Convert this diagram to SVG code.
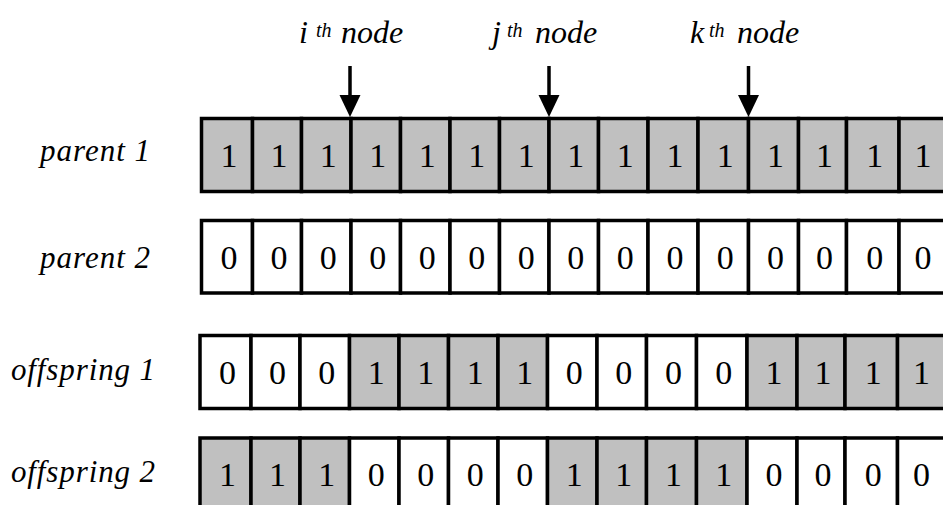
<svg xmlns="http://www.w3.org/2000/svg" width="943" height="505" viewBox="0 0 943 505">
<defs>
<style>
.cell{stroke:#000;stroke-width:3.5}
.on{fill:#c0c0c0}
.off{fill:#fff}
.d{font-family:"Liberation Serif","Times New Roman",serif;font-size:34px;fill:#000;text-anchor:middle}
.lbl{font-family:"Liberation Serif","Times New Roman",serif;font-style:italic;font-size:31px;fill:#000}
.top{font-family:"Liberation Serif","Times New Roman",serif;font-style:italic;font-size:32px;fill:#000}
.sup{font-size:20px}
.arr{stroke:#000;stroke-width:3.5;fill:none}
</style>
<marker id="ah" markerUnits="userSpaceOnUse" markerWidth="22" markerHeight="22" viewBox="0 0 22 22" refX="5" refY="11" orient="auto">
<path d="M0,0.5 L22,11 L0,21.5 z" fill="#000"/>
</marker>
</defs>
<rect width="943" height="505" fill="#fff"/>

<g id="labels">
<text class="lbl" x="40" y="161" textLength="110" lengthAdjust="spacing">parent 1</text>
<text class="lbl" x="40" y="268" textLength="110" lengthAdjust="spacing">parent 2</text>
<text class="lbl" x="11" y="380" textLength="144" lengthAdjust="spacing">offspring 1</text>
<text class="lbl" x="11" y="482" textLength="144" lengthAdjust="spacing">offspring 2</text>
</g>

<g id="node-labels">
<text class="top" y="43"><tspan x="299">i</tspan><tspan class="sup" x="316" y="36.5">th</tspan><tspan x="341" y="43">node</tspan></text>
<text class="top" y="43"><tspan x="492">j</tspan><tspan class="sup" x="507" y="36.5">th</tspan><tspan x="535" y="43">node</tspan></text>
<text class="top" y="43"><tspan x="690">k</tspan><tspan class="sup" x="709" y="36.5">th</tspan><tspan x="737" y="43">node</tspan></text>
</g>

<g id="parent1">
<rect class="cell on" x="201.5" y="118.5" width="51" height="73"/>
<rect class="cell on" x="252.5" y="118.5" width="49" height="73"/>
<rect class="cell on" x="301.5" y="118.5" width="49.5" height="73"/>
<rect class="cell on" x="351" y="118.5" width="49.5" height="73"/>
<rect class="cell on" x="400.5" y="118.5" width="49.5" height="73"/>
<rect class="cell on" x="450" y="118.5" width="49.5" height="73"/>
<rect class="cell on" x="499.5" y="118.5" width="49.5" height="73"/>
<rect class="cell on" x="549" y="118.5" width="49.5" height="73"/>
<rect class="cell on" x="598.5" y="118.5" width="49.5" height="73"/>
<rect class="cell on" x="648" y="118.5" width="50" height="73"/>
<rect class="cell on" x="698" y="118.5" width="50.5" height="73"/>
<rect class="cell on" x="748.5" y="118.5" width="50" height="73"/>
<rect class="cell on" x="798.5" y="118.5" width="48" height="73"/>
<rect class="cell on" x="846.5" y="118.5" width="52.5" height="73"/>
<rect class="cell on" x="899" y="118.5" width="70" height="73"/>
<text class="d" y="167"><tspan x="229">1</tspan><tspan x="279">1</tspan><tspan x="328.25">1</tspan><tspan x="377.75">1</tspan><tspan x="427.25">1</tspan><tspan x="476.75">1</tspan><tspan x="526.25">1</tspan><tspan x="575.75">1</tspan><tspan x="625.25">1</tspan><tspan x="675">1</tspan><tspan x="725.25">1</tspan><tspan x="775.5">1</tspan><tspan x="824.5">1</tspan><tspan x="874.75">1</tspan><tspan x="923">1</tspan></text>
</g>

<g id="parent2">
<rect class="cell off" x="201.5" y="220.5" width="51" height="72.5"/>
<rect class="cell off" x="252.5" y="220.5" width="49" height="72.5"/>
<rect class="cell off" x="301.5" y="220.5" width="49.5" height="72.5"/>
<rect class="cell off" x="351" y="220.5" width="49.5" height="72.5"/>
<rect class="cell off" x="400.5" y="220.5" width="49.5" height="72.5"/>
<rect class="cell off" x="450" y="220.5" width="49.5" height="72.5"/>
<rect class="cell off" x="499.5" y="220.5" width="49.5" height="72.5"/>
<rect class="cell off" x="549" y="220.5" width="49.5" height="72.5"/>
<rect class="cell off" x="598.5" y="220.5" width="49.5" height="72.5"/>
<rect class="cell off" x="648" y="220.5" width="50" height="72.5"/>
<rect class="cell off" x="698" y="220.5" width="50.5" height="72.5"/>
<rect class="cell off" x="748.5" y="220.5" width="50" height="72.5"/>
<rect class="cell off" x="798.5" y="220.5" width="48" height="72.5"/>
<rect class="cell off" x="846.5" y="220.5" width="52.5" height="72.5"/>
<rect class="cell off" x="899" y="220.5" width="70" height="72.5"/>
<text class="d" y="268.5"><tspan x="229">0</tspan><tspan x="279">0</tspan><tspan x="328.25">0</tspan><tspan x="377.75">0</tspan><tspan x="427.25">0</tspan><tspan x="476.75">0</tspan><tspan x="526.25">0</tspan><tspan x="575.75">0</tspan><tspan x="625.25">0</tspan><tspan x="675">0</tspan><tspan x="725.25">0</tspan><tspan x="775.5">0</tspan><tspan x="824.5">0</tspan><tspan x="874.75">0</tspan><tspan x="923">0</tspan></text>
</g>

<g id="offspring1" transform="translate(-1.5,0)">
<rect class="cell off" x="201.5" y="335.5" width="51" height="73"/>
<rect class="cell off" x="252.5" y="335.5" width="49" height="73"/>
<rect class="cell off" x="301.5" y="335.5" width="49.5" height="73"/>
<rect class="cell on" x="351" y="335.5" width="49.5" height="73"/>
<rect class="cell on" x="400.5" y="335.5" width="49.5" height="73"/>
<rect class="cell on" x="450" y="335.5" width="49.5" height="73"/>
<rect class="cell on" x="499.5" y="335.5" width="49.5" height="73"/>
<rect class="cell off" x="549" y="335.5" width="49.5" height="73"/>
<rect class="cell off" x="598.5" y="335.5" width="49.5" height="73"/>
<rect class="cell off" x="648" y="335.5" width="50" height="73"/>
<rect class="cell off" x="698" y="335.5" width="50.5" height="73"/>
<rect class="cell on" x="748.5" y="335.5" width="50" height="73"/>
<rect class="cell on" x="798.5" y="335.5" width="48" height="73"/>
<rect class="cell on" x="846.5" y="335.5" width="52.5" height="73"/>
<rect class="cell on" x="899" y="335.5" width="70" height="73"/>
<text class="d" y="383.5"><tspan x="229">0</tspan><tspan x="279">0</tspan><tspan x="328.25">0</tspan><tspan x="377.75">1</tspan><tspan x="427.25">1</tspan><tspan x="476.75">1</tspan><tspan x="526.25">1</tspan><tspan x="575.75">0</tspan><tspan x="625.25">0</tspan><tspan x="675">0</tspan><tspan x="725.25">0</tspan><tspan x="775.5">1</tspan><tspan x="824.5">1</tspan><tspan x="874.75">1</tspan><tspan x="923">1</tspan></text>
</g>

<g id="offspring2" transform="translate(-1.5,0)">
<rect class="cell on" x="201.5" y="438" width="51" height="73"/>
<rect class="cell on" x="252.5" y="438" width="49" height="73"/>
<rect class="cell on" x="301.5" y="438" width="49.5" height="73"/>
<rect class="cell off" x="351" y="438" width="49.5" height="73"/>
<rect class="cell off" x="400.5" y="438" width="49.5" height="73"/>
<rect class="cell off" x="450" y="438" width="49.5" height="73"/>
<rect class="cell off" x="499.5" y="438" width="49.5" height="73"/>
<rect class="cell on" x="549" y="438" width="49.5" height="73"/>
<rect class="cell on" x="598.5" y="438" width="49.5" height="73"/>
<rect class="cell on" x="648" y="438" width="50" height="73"/>
<rect class="cell on" x="698" y="438" width="50.5" height="73"/>
<rect class="cell off" x="748.5" y="438" width="50" height="73"/>
<rect class="cell off" x="798.5" y="438" width="48" height="73"/>
<rect class="cell off" x="846.5" y="438" width="52.5" height="73"/>
<rect class="cell off" x="899" y="438" width="70" height="73"/>
<text class="d" y="486"><tspan x="229">1</tspan><tspan x="279">1</tspan><tspan x="328.25">1</tspan><tspan x="377.75">0</tspan><tspan x="427.25">0</tspan><tspan x="476.75">0</tspan><tspan x="526.25">0</tspan><tspan x="575.75">1</tspan><tspan x="625.25">1</tspan><tspan x="675">1</tspan><tspan x="725.25">1</tspan><tspan x="775.5">0</tspan><tspan x="824.5">0</tspan><tspan x="874.75">0</tspan><tspan x="923">0</tspan></text>
</g>

<g id="connectors">
<line class="arr" x1="350" y1="66" x2="350" y2="100" marker-end="url(#ah)"/>
<line class="arr" x1="549" y1="66" x2="549" y2="100" marker-end="url(#ah)"/>
<line class="arr" x1="748.5" y1="66" x2="748.5" y2="100" marker-end="url(#ah)"/>
</g>
</svg>
